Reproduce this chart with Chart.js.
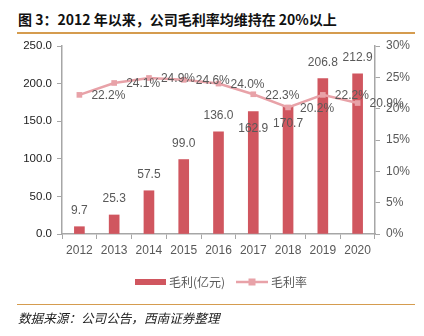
<!DOCTYPE html>
<html>
<head>
<meta charset="utf-8">
<script src="https://cdn.jsdelivr.net/npm/chart.js@4/dist/chart.umd.min.js"></script>
<style>
  html, body { margin: 0; padding: 0; background: #fff; }
  #wrap { position: relative; width: 424px; height: 336px; overflow: hidden; }
  #title { position: absolute; left: 18px; top: 10px; font: bold 14px "Noto Sans CJK SC", "Liberation Sans", sans-serif; color: #111; white-space: nowrap; line-height: 18px; }
  .rule { position: absolute; left: 17px; width: 398px; height: 1.5px; background: #d59c4f; }
  #source { position: absolute; left: 18px; top: 310px; font: italic 12.6px "Noto Sans CJK SC", sans-serif; color: #222; white-space: nowrap; line-height: 16px; }
  canvas { position: absolute; left: 0; top: 0; }
</style>
</head>
<body>
<div id="wrap">
  <div id="title">图 3：2012 年以来，公司毛利率均维持在 20%以上</div>
  <div class="rule" style="top:32px"></div>
  <canvas id="c" width="424" height="336"></canvas>
  <div class="rule" style="top:303.5px"></div>
  <div id="source">数据来源：公司公告，西南证券整理</div>
</div>
<script>
// Gross profit (亿元) and gross margin (%) by year
const years = ['2012', '2013', '2014', '2015', '2016', '2017', '2018', '2019', '2020'];
const grossProfit = [9.7, 25.3, 57.5, 99.0, 136.0, 162.9, 170.7, 206.8, 212.9];
const grossMargin = [22.2, 24.1, 24.9, 24.6, 24.0, 22.3, 20.2, 22.2, 20.9];
const leftTicks = [0, 50, 100, 150, 200, 250];
const rightTicks = [0, 5, 10, 15, 20, 25, 30];

const BAR_COLOR = '#d0565f';
const LINE_COLOR = '#e8a2a8';
const TEXT_GRAY = '#595959';
const AXIS_GRAY = '#a6a6a6';
const FONT = '"Liberation Sans", Arial, sans-serif';

// vertical offset of each bar label from the bar top (negative = above)
const barLabelShift = [-16, -16, -16, -16, -16, 17, 18, -16, -16];

const labelPlugin = {
  id: 'valueLabels',
  afterDatasetsDraw(chart) {
    const ctx = chart.ctx;
    ctx.save();
    ctx.font = '12px ' + FONT;
    ctx.fillStyle = TEXT_GRAY;
    ctx.textBaseline = 'middle';
    // bar values
    ctx.textAlign = 'center';
    chart.getDatasetMeta(0).data.forEach((el, i) => {
      ctx.fillText(grossProfit[i].toFixed(1), el.x, el.y + barLabelShift[i]);
    });
    // margin values, placed to the right of each point
    ctx.textAlign = 'left';
    chart.getDatasetMeta(1).data.forEach((el, i) => {
      ctx.fillText(grossMargin[i].toFixed(1) + '%', el.x + 12, el.y + 1);
    });
    ctx.restore();
  }
};

const legendPlugin = {
  id: 'customLegend',
  afterDraw(chart) {
    const ctx = chart.ctx;
    const y = 282;
    ctx.save();
    ctx.fillStyle = BAR_COLOR;
    ctx.fillRect(135, y - 3, 31, 6);
    ctx.strokeStyle = LINE_COLOR;
    ctx.lineWidth = 2.5;
    ctx.beginPath();
    ctx.moveTo(236, y);
    ctx.lineTo(268, y);
    ctx.stroke();
    ctx.fillStyle = LINE_COLOR;
    ctx.fillRect(248.5, y - 3.5, 7, 7);
    ctx.font = '12px "Noto Sans CJK SC", ' + FONT;
    ctx.fillStyle = TEXT_GRAY;
    ctx.textBaseline = 'middle';
    ctx.textAlign = 'left';
    ctx.fillText('毛利(亿元)', 169, y);
    ctx.fillText('毛利率', 271, y);
    ctx.restore();
  }
};

new Chart(document.getElementById('c'), {
  data: {
    labels: years,
    datasets: [
      {
        type: 'bar',
        label: '毛利(亿元)',
        data: grossProfit,
        backgroundColor: BAR_COLOR,
        barThickness: 10,
        yAxisID: 'y',
        order: 2
      },
      {
        type: 'line',
        label: '毛利率',
        data: grossMargin,
        borderColor: LINE_COLOR,
        backgroundColor: LINE_COLOR,
        borderWidth: 2.5,
        pointStyle: 'rect',
        pointRadius: 4,
        pointBorderWidth: 0,
        tension: 0,
        yAxisID: 'y1',
        order: 1
      }
    ]
  },
  options: {
    responsive: false,
    animation: false,
    devicePixelRatio: 1,
    layout: { padding: { top: 46, left: 0, right: 0, bottom: 0 } },
    plugins: { legend: { display: false }, tooltip: { enabled: false } },
    scales: {
      x: {
        offset: true,
        grid: { display: true, drawOnChartArea: false, drawTicks: true, tickLength: 5, color: AXIS_GRAY, offset: true },
        border: { display: true, color: AXIS_GRAY, width: 1.5 },
        ticks: { color: TEXT_GRAY, font: { family: FONT, size: 12 }, padding: 4, maxRotation: 0 },
        afterFit(s) { s.height = 102; }
      },
      y: {
        position: 'left',
        min: 0, max: 250,
        afterBuildTicks(s) { s.ticks = leftTicks.map(v => ({ value: v })); },
        grid: { display: true, drawOnChartArea: false, drawTicks: true, tickLength: 5, color: AXIS_GRAY },
        border: { display: true, color: AXIS_GRAY, width: 1.5 },
        ticks: { color: '#222', font: { family: FONT, size: 11.5 }, padding: 5, callback: v => Number(v).toFixed(1) },
        afterFit(s) { s.width = 62; }
      },
      y1: {
        position: 'right',
        min: 0, max: 30,
        afterBuildTicks(s) { s.ticks = rightTicks.map(v => ({ value: v })); },
        grid: { display: true, drawOnChartArea: false, drawTicks: true, tickLength: 5, color: AXIS_GRAY },
        border: { display: true, color: AXIS_GRAY, width: 1.5 },
        ticks: { color: TEXT_GRAY, font: { family: FONT, size: 12 }, padding: 6, callback: v => v + '%' },
        afterFit(s) { s.width = 49; }
      }
    }
  },
  plugins: [labelPlugin, legendPlugin]
});
</script>
</body>
</html>
